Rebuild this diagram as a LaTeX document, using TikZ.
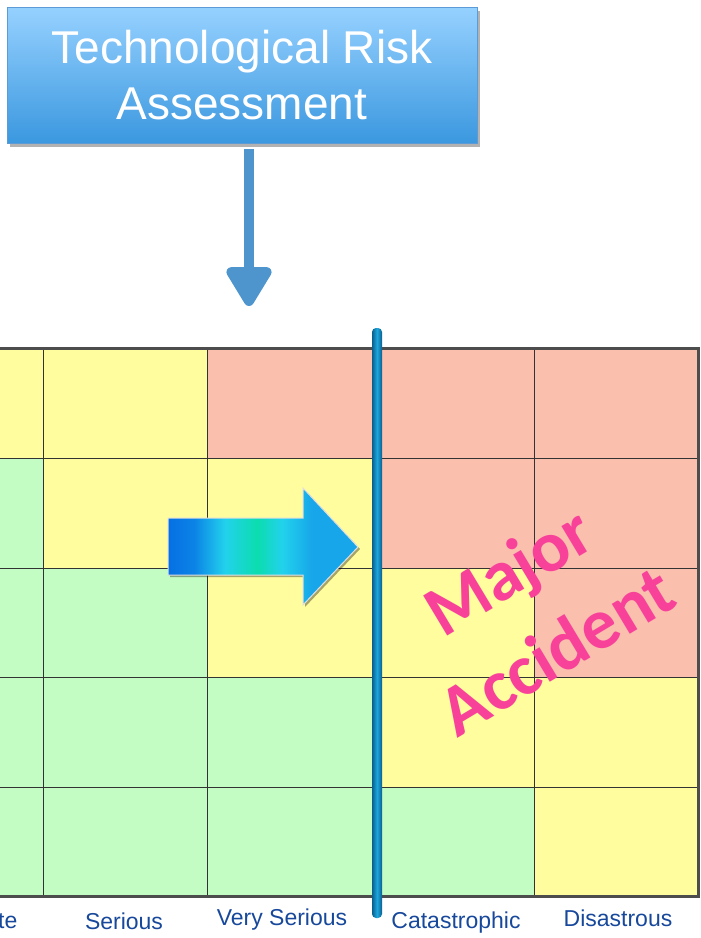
\documentclass[tikz,border=0pt]{standalone}
\usepackage{fontspec}
\setmainfont{Liberation Sans}
\newfontfamily\calibrifont{Carlito}
\usetikzlibrary{arrows.meta,shadows}

\definecolor{cellYellow}  {HTML}{FFFD9E}
\definecolor{cellRed}     {HTML}{FBBFAE}
\definecolor{cellGreen}   {HTML}{C4FDC3}
\definecolor{gridLine}    {HTML}{333333}
\definecolor{gridFrame}   {HTML}{4D4D4D}
\definecolor{titleTop}    {HTML}{96D1FF}
\definecolor{titleBottom} {HTML}{3B98DF}
\definecolor{titleEdge}   {HTML}{5C9BD6}
\definecolor{pointerBlue} {HTML}{4E95CD}
\definecolor{labelBlue}   {HTML}{17489B}
\definecolor{accidentPink}{HTML}{F8429A}
\definecolor{barDark}     {HTML}{0A5F8E}
\definecolor{barLight}    {HTML}{1CA6DC}
\definecolor{shiftA}      {HTML}{0670E4}
\definecolor{shiftB}      {HTML}{22D2EC}
\definecolor{shiftC}      {HTML}{0BDDAE}
\definecolor{shiftD}      {HTML}{17A6EA}

%% the path box covers the middle half (25bp..75bp) of the shading
\pgfdeclarehorizontalshading{shiftshade}{100bp}{color(0bp)=(shiftA); color(25bp)=(shiftA); color(32bp)=(shiftA!80!shiftB);
  color(40bp)=(shiftB); color(48.5bp)=(shiftC); color(55bp)=(shiftB); color(63bp)=(shiftD); color(75bp)=(shiftD); color(100bp)=(shiftD)}

\begin{document}
\begin{tikzpicture}[
    x=1pt, y=-1pt,
    every node/.style = {inner sep=0pt, align=center},
    titlebox/.style   = {draw=titleEdge, line width=0.8pt, top color=titleTop, bottom color=titleBottom,
                         minimum width=470pt, minimum height=136pt, text=white,
                         font=\fontsize{46}{56}\selectfont,
                         drop shadow={shadow xshift=3pt, shadow yshift=-4pt, opacity=0.3, fill=black}},
    pointer/.style    = {draw=pointerBlue, line width=10pt, -{Triangle[width=50pt,length=44pt,round]}},
    cellrule/.style   = {draw=gridLine, line width=0.8pt},
    frame/.style      = {draw=gridFrame, line width=3pt},
    sevlabel/.style   = {text=labelBlue, font=\fontsize{23}{26}\selectfont},
    accident/.style   = {text=accidentPink, font=\calibrifont\bfseries\fontsize{72}{93}\selectfont, rotate=31},
    shiftarrow/.style = {shading=shiftshade, draw=white!75!gray, line width=1pt,
                         drop shadow={shadow xshift=2pt, shadow yshift=-2pt, opacity=0.35, fill=black}},
    divider/.style    = {left color=barDark, right color=barDark, middle color=barLight,
                         rounded corners=4pt, minimum width=10pt, minimum height=590pt},
  ]
  \useasboundingbox (0,0) rectangle (701,938);

  %% Title box and pointer down to the matrix
  \node[titlebox] (title) at (242,75) {Technological Risk\\Assessment};
  \coordinate (tip) at (249,306);
  \draw[pointer, shorten <=6pt] (title.south -| tip) -- (tip);

  %% Risk matrix cells (rows top to bottom)
  \foreach \ya/\yb/\ca/\cb/\cc/\cd/\ce in {
      348/458/cellYellow/cellYellow/cellRed/cellRed/cellRed,
      458/568/cellGreen/cellYellow/cellYellow/cellRed/cellRed,
      568/677/cellGreen/cellGreen/cellYellow/cellYellow/cellRed,
      677/787/cellGreen/cellGreen/cellGreen/cellYellow/cellYellow,
      787/896/cellGreen/cellGreen/cellGreen/cellGreen/cellYellow}{
    \fill[\ca] (0,\ya)   rectangle (43,\yb);
    \fill[\cb] (43,\ya)  rectangle (207,\yb);
    \fill[\cc] (207,\ya) rectangle (377,\yb);
    \fill[\cd] (377,\ya) rectangle (534,\yb);
    \fill[\ce] (534,\ya) rectangle (698,\yb);
  }
  \foreach \y in {458,568,677,787} \draw[cellrule] (0,\y) -- (698,\y);
  \foreach \x in {43,207,377,534} \draw[cellrule] (\x,348) -- (\x,896);
  \draw[frame] (0,348) -- (698,348) -- (698,896) -- (0,896);

  %% Shift arrow and the major accident threshold
  \path[shiftarrow] (168,518) -- (303,518) -- (303,488) -- (358,547)
                    -- (303,605) -- (303,575) -- (168,575) -- cycle;
  \node[divider] (threshold) at (377,623) {};

  \node[accident] (major) at (532,610) {Major\\Accident};

  %% Severity labels
  \node[sevlabel, anchor=west] (moderate) at (-2,921) {te};
  \node[sevlabel] (serious)      at (124,921) {Serious};
  \node[sevlabel] (veryserious)  at (282,920) {Very Serious};
  \node[sevlabel] (catastrophic) at (456,923) {Catastrophic};
  \node[sevlabel] (disastrous)   at (618,918) {Disastrous};

\end{tikzpicture}
\end{document}
